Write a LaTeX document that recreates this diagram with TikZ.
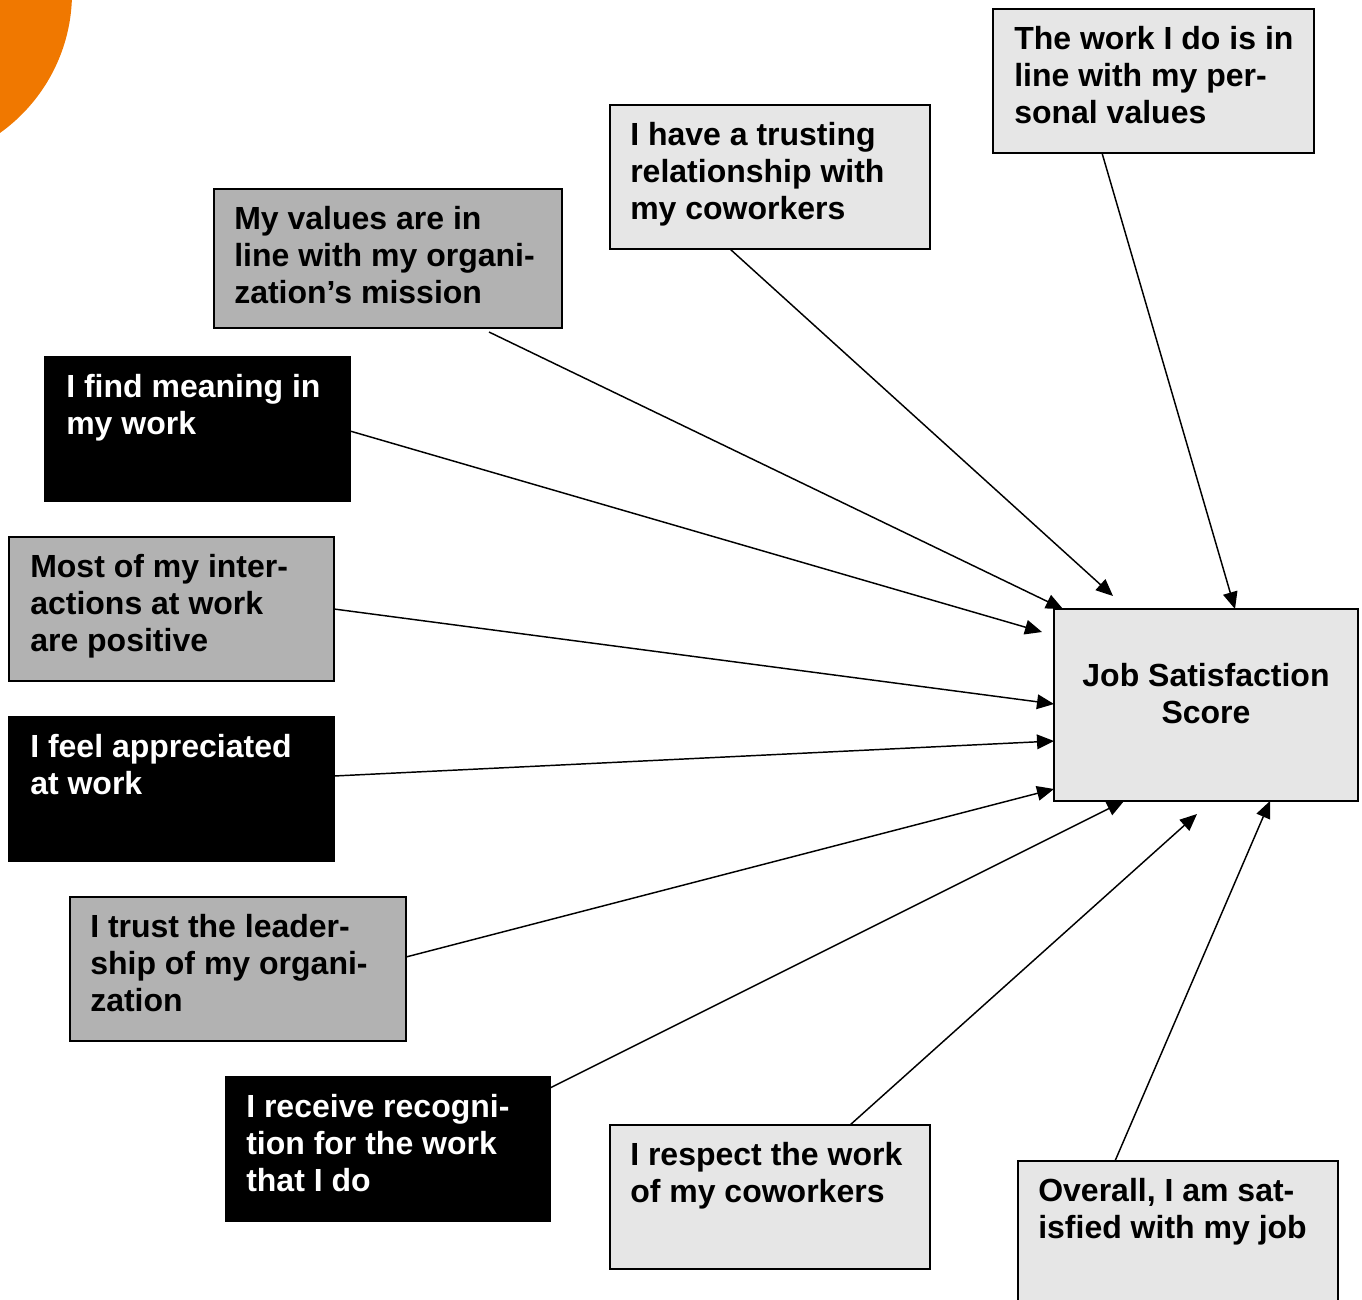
\documentclass[tikz,border=0pt]{standalone}
\usepackage{fontspec}
\setmainfont{Liberation Sans}
\usetikzlibrary{arrows.meta,calc,fit}
\definecolor{lightg}{RGB}{230,230,230}
\definecolor{midg}{RGB}{178,178,178}
\definecolor{orng}{RGB}{240,120,0}
\tikzset{
  box/.style={draw=black, line width=1.5pt, rectangle, inner sep=0pt, outer sep=0pt},
  txt/.style={anchor=north west, inner sep=0pt, align=left, font=\fontsize{24pt}{27.75pt}\selectfont\bfseries},
  arr/.style={line width=1.1pt, -{Triangle[length=12.75pt,width=11pt]}},
}
\newcommand{\fs}{\rule{0pt}{18.75pt}}
\begin{document}
\begin{tikzpicture}[x=0.75pt,y=-0.75pt]
\useasboundingbox (0,0) rectangle (1362,1299);
\clip (0,0) rectangle (1362,1299);
\fill[orng] (-100,-7) circle[radius=172];
% boxes
\node[box, fill=lightg, fit={(993,9) (1314,153)}] (b1) {};
\node[box, fill=lightg, fit={(610,105) (930,249)}] (b2) {};
\node[box, fill=midg, fit={(214,189) (562,328)}] (b3) {};
\node[box, fill=black, fit={(45,357) (350,501)}] (b4) {};
\node[box, fill=midg, fit={(9,537) (334,681)}] (b5) {};
\node[box, fill=black, fit={(9,717) (334,861)}] (b6) {};
\node[box, fill=midg, fit={(70,897) (406,1041)}] (b7) {};
\node[box, fill=black, fit={(226,1077) (550,1221)}] (b8) {};
\node[box, fill=lightg, fit={(610,1125) (930,1269)}] (b9) {};
\node[box, fill=lightg, fit={(1018,1161) (1338,1330)}] (b10) {};
\node[box, fill=lightg, fit={(1054,609) (1358,801)}] (job) {};
% texts
\node[txt] (t1) at ($(b1.north west)+(21,15)$) {\fs The work I do is in\\line with my per-\\sonal values};
\node[txt] (t2) at ($(b2.north west)+(20,15)$) {\fs I have a trusting\\relationship with\\my coworkers};
\node[txt] (t3) at ($(b3.north west)+(20,15)$) {\fs My values are in\\line with my organi-\\zation’s mission};
\node[txt, text=white] (t4) at ($(b4.north west)+(21,15)$) {\fs I find meaning in\\my work};
\node[txt] (t5) at ($(b5.north west)+(21,15)$) {\fs Most of my inter-\\actions at work\\are positive};
\node[txt, text=white] (t6) at ($(b6.north west)+(21,15)$) {\fs I feel appreciated\\at work};
\node[txt] (t7) at ($(b7.north west)+(20,15)$) {\fs I trust the leader-\\ship of my organi-\\zation};
\node[txt, text=white] (t8) at ($(b8.north west)+(20,15)$) {\fs I receive recogni-\\tion for the work\\that I do};
\node[txt] (t9) at ($(b9.north west)+(20,15)$) {\fs I respect the work\\of my coworkers};
\node[txt] (t10) at ($(b10.north west)+(20,15)$) {\fs Overall, I am sat-\\isfied with my job};
\node[txt, anchor=north, align=center] (tj) at (1206,661) {\fs Job Satisfaction\\Score};
% arrows
\draw[arr] ($(b1.south west)+(109,0)$) -- ($(job.north west)+(181,0)$);
\draw[arr] ($(b2.south west)+(120,0)$) -- ($(job.north west)+(59,-13)$);
\draw[arr] ($(b3.south west)+(275,4)$) -- ($(job.north west)+(9,0)$);
\draw[arr] ($(b4.north east)+(0,74)$) -- ($(job.north west)+(-12,23)$);
\draw[arr] ($(b5.north east)+(0,72)$) -- ($(job.north west)+(0,95)$);
\draw[arr] ($(b6.north east)+(0,59)$) -- ($(job.north west)+(0,132)$);
\draw[arr] ($(b7.north east)+(0,60)$) -- ($(job.north west)+(0,180)$);
\draw[arr] ($(b8.north east)+(0,11)$) -- ($(job.south west)+(70,0)$);
\draw[arr] ($(b9.north west)+(240,0)$) -- ($(job.south west)+(143,13)$);
\draw[arr] ($(b10.north west)+(97,0)$) -- ($(job.south west)+(216,0)$);
\end{tikzpicture}
\end{document}
